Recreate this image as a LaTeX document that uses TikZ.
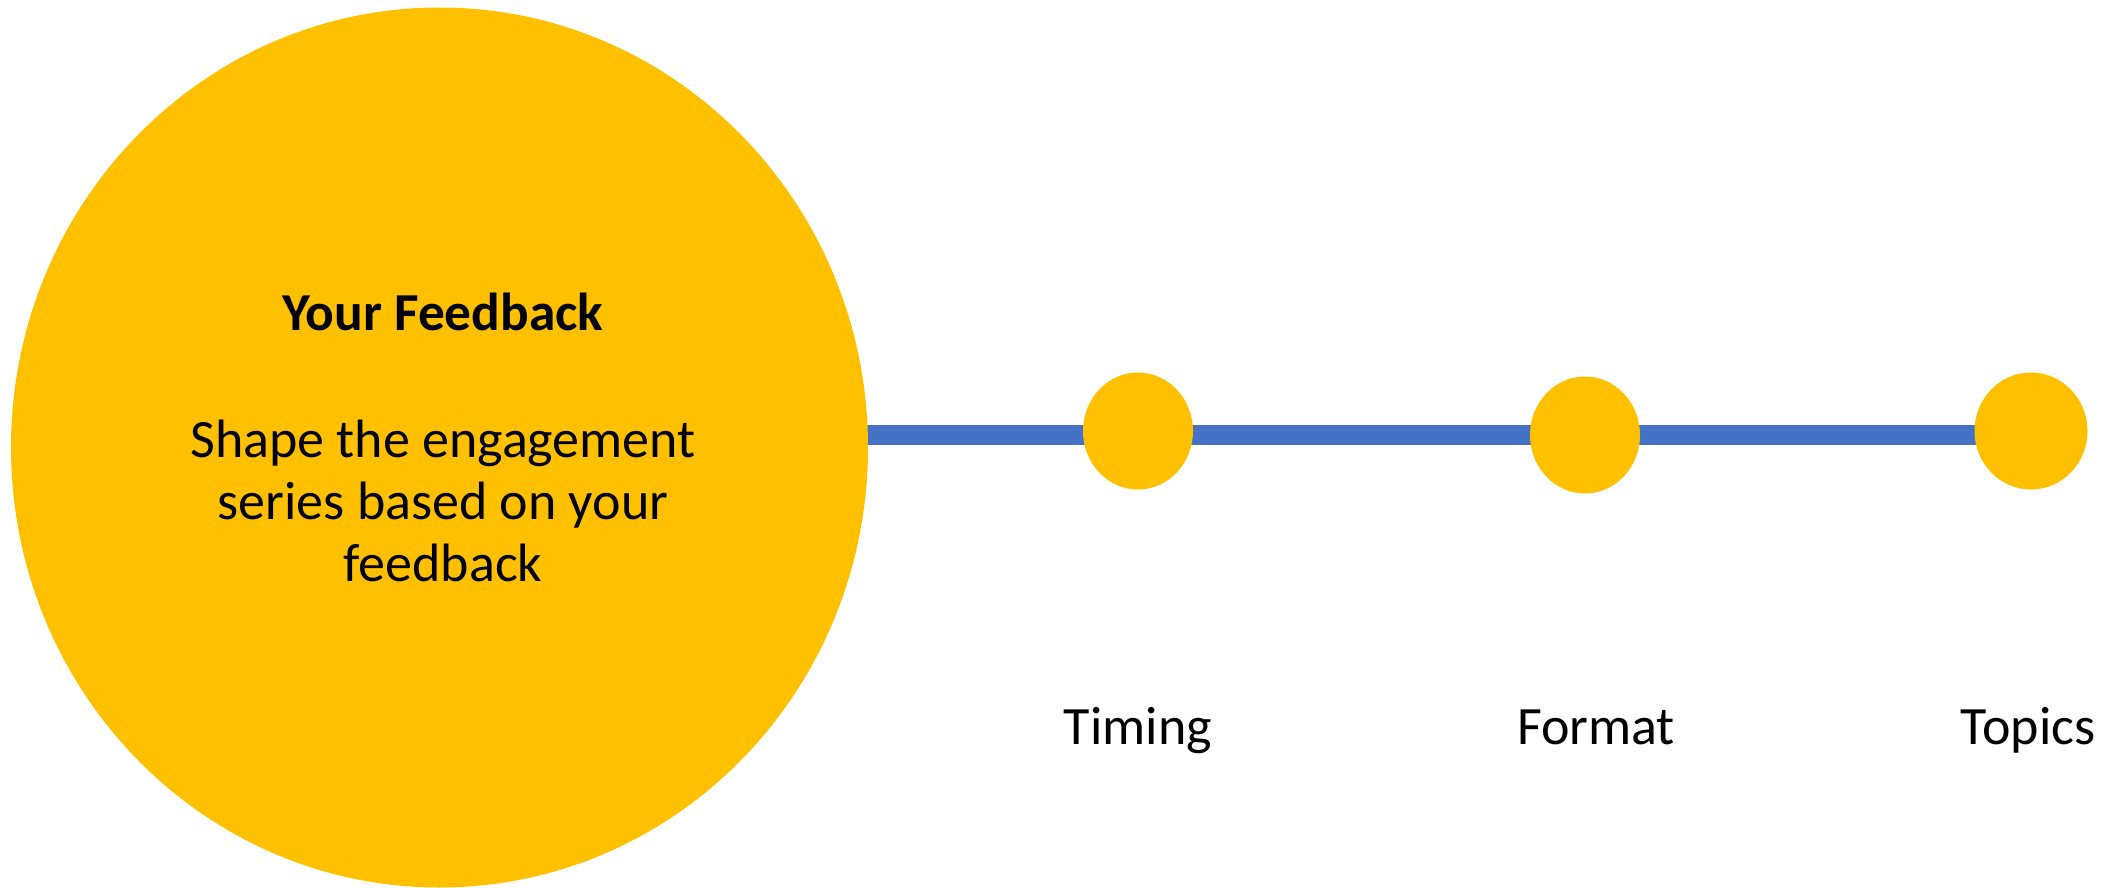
\documentclass[tikz,border=0pt]{standalone}
\usepackage{fontspec}
\setmainfont{Carlito}
\usetikzlibrary{shapes.geometric}
\definecolor{goldy}{HTML}{FFC000}
\definecolor{bluey}{HTML}{4472C4}
\tikzset{
  dot/.style={ellipse, fill=goldy, draw=none, inner sep=0pt},
  bar/.style={draw=bluey, line width=10pt},
  txt/.style={anchor=base, inner sep=0pt, font=\fontsize{27}{32}\selectfont},
  ttl/.style={anchor=base, inner sep=0pt, font=\fontsize{26.7}{32}\selectfont\bfseries},
}
\begin{document}
\begin{tikzpicture}[x=0.5pt, y=-0.5pt]
\useasboundingbox (0,0) rectangle (2110,888);
\coordinate (s) at (866,435);
\coordinate (e) at (1976,435);
\draw[bar] (s) -- (e);
\node[dot, minimum width=857pt*0.5, minimum height=880pt*0.5] (big) at (439.5,447.5) {};
\node[dot, minimum width=110pt*0.5, minimum height=117pt*0.5] (c1) at (1138,431) {};
\node[dot, minimum width=110pt*0.5, minimum height=117pt*0.5] (c2) at (1585,435) {};
\node[dot, minimum width=113pt*0.5, minimum height=117pt*0.5] (c3) at (2031,431) {};
\node[ttl] (title) at (443,330) {Your Feedback};
\node[txt] (b1) at (443,457.5) {Shape the engagement};
\node[txt] (b2) at (443,519) {series based on your};
\node[txt] (b3) at (443,581) {feedback};
\node[txt] (l1) at (1138,744) {Timing};
\node[txt] (l2) at (1596,744) {Format};
\node[txt] (l3) at (2028,744) {Topics};
\end{tikzpicture}
\end{document}
